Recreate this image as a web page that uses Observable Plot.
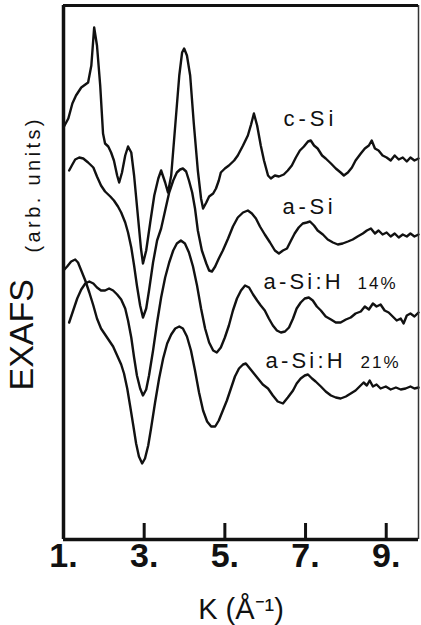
<!DOCTYPE html>
<html>
<head>
<meta charset="utf-8">
<script src="https://cdn.jsdelivr.net/npm/d3@7"></script>
<script src="https://cdn.jsdelivr.net/npm/@observablehq/plot@0.6"></script>
<style>
  html, body { margin: 0; padding: 0; background: #fff; }
  #chart { width: 421px; height: 625px; overflow: hidden; }
</style>
</head>
<body>
<div id="chart"></div>
<script>
// Series names and labels
const seriesNames = ["c-Si", "a-Si", "a-Si:H 14%", "a-Si:H 21%"];

// k values (Å^-1) and EXAFS (arb. units, vertically offset) per series
const cSiK = [1.0,1.12,1.22,1.31,1.44,1.61,1.69,1.76,1.83,1.91,1.98,2.03,2.11,2.18,2.25,2.33,2.38,2.45,2.53,2.60,2.68,2.75,2.85,2.92,2.97,3.05,3.15,3.25,3.35,3.42,3.52,3.59,3.67,3.77,3.87,3.94,3.99,4.06,4.14,4.23,4.33,4.41,4.46,4.54,4.61,4.71,4.78,4.85,4.90,5.00,5.10,5.23,5.32,5.45,5.57,5.65,5.72,5.80,5.89,5.97,6.07,6.14,6.24,6.34,6.46,6.56,6.66,6.76,6.86,6.96,7.06,7.13,7.21,7.30,7.41,7.50,7.63,7.75,7.87,7.95,8.05,8.15,8.24,8.37,8.47,8.57,8.64,8.72,8.81,8.91,9.01,9.11,9.21,9.31,9.41,9.51,9.60,9.70,9.80];
const cSiY = [41.2,42.1,43.6,44.4,45.2,45.7,47.4,51.2,49.4,45.4,40.6,39.6,39.3,38.7,37.9,36.4,35.7,36.7,38.4,39.3,38.7,36.4,32.1,29.1,27.6,28.9,31.7,34.4,36.1,36.9,35.7,34.7,36.4,41.4,46.4,48.7,49.1,48.4,46.4,41.6,36.9,34.1,33.1,33.7,34.3,34.6,35.1,35.9,36.7,37.1,37.4,37.9,38.4,39.4,40.4,41.5,42.6,41.4,39.4,37.9,36.4,36.1,36.4,36.3,36.5,36.9,37.4,38.2,38.9,39.3,39.8,39.9,39.4,39.1,38.4,38.1,37.6,37.1,36.7,36.4,36.7,37.2,37.9,38.6,39.1,39.4,39.9,39.1,38.9,38.4,38.2,37.9,38.4,38.0,38.2,37.8,38.2,37.9,38.1];

const aSiK = [1.14,1.22,1.29,1.39,1.49,1.61,1.74,1.83,1.93,2.03,2.16,2.25,2.35,2.43,2.53,2.60,2.68,2.75,2.82,2.90,2.97,3.05,3.12,3.22,3.32,3.42,3.52,3.62,3.72,3.81,3.89,3.96,4.04,4.11,4.19,4.26,4.33,4.43,4.54,4.61,4.68,4.76,4.85,4.95,5.08,5.20,5.32,5.45,5.57,5.67,5.77,5.87,5.99,6.12,6.24,6.34,6.44,6.54,6.64,6.73,6.83,6.93,7.03,7.11,7.21,7.30,7.43,7.55,7.68,7.80,7.92,8.05,8.17,8.29,8.42,8.52,8.62,8.72,8.81,8.91,9.01,9.11,9.21,9.31,9.41,9.51,9.60,9.70,9.80];
const aSiY = [36.9,37.5,38.0,38.2,38.1,37.7,37.2,36.3,35.4,34.8,34.3,33.9,33.3,32.7,31.7,30.7,29.2,27.4,25.4,23.4,22.2,23.1,24.9,27.7,29.9,31.1,32.9,34.7,35.9,36.7,37.0,37.1,36.8,35.9,34.7,33.1,30.9,28.9,27.6,26.9,26.8,27.3,28.1,28.9,30.1,31.3,32.2,32.7,32.9,32.6,32.1,31.3,30.5,29.7,28.9,28.6,28.9,29.1,29.9,30.6,31.2,31.6,31.7,31.8,31.4,30.9,30.5,30.0,29.7,29.5,29.6,29.8,30.0,30.3,30.6,30.9,31.1,30.6,30.9,30.5,30.7,30.3,30.6,30.2,30.5,30.3,30.6,30.3,30.5];

const aSiH14K = [1.14,1.24,1.34,1.44,1.54,1.64,1.74,1.83,1.93,2.03,2.13,2.23,2.33,2.43,2.53,2.60,2.68,2.75,2.82,2.90,2.97,3.05,3.12,3.22,3.32,3.42,3.52,3.62,3.72,3.81,3.91,4.01,4.11,4.21,4.31,4.41,4.51,4.61,4.71,4.80,4.90,5.00,5.10,5.20,5.30,5.40,5.50,5.60,5.70,5.80,5.89,5.99,6.09,6.19,6.29,6.39,6.49,6.59,6.69,6.78,6.88,6.98,7.08,7.18,7.28,7.38,7.50,7.63,7.75,7.87,8.00,8.12,8.24,8.37,8.47,8.57,8.67,8.76,8.86,8.96,9.06,9.16,9.26,9.36,9.43,9.51,9.60,9.70,9.80];
const aSiH14Y = [21.7,22.9,24.1,25.0,25.6,25.8,25.6,25.2,24.9,24.9,25.1,24.9,24.5,24.0,23.1,21.9,20.2,18.2,16.4,15.1,14.4,15.0,16.4,18.9,21.7,24.2,26.2,27.7,28.9,29.6,29.9,29.6,28.7,27.3,25.4,23.1,21.1,19.7,18.9,18.7,19.2,20.2,21.4,22.9,24.1,24.9,25.4,25.2,24.5,23.9,23.4,22.9,22.1,21.4,20.9,20.7,20.8,21.2,22.1,23.1,23.7,24.1,24.2,23.9,23.3,22.9,22.3,22.0,21.7,21.7,22.0,22.2,22.6,22.8,23.3,23.0,23.6,23.3,23.5,22.9,22.7,22.3,21.9,22.1,21.6,22.4,22.6,22.3,22.7];

const aSiH21K = [1.0,1.09,1.19,1.29,1.36,1.44,1.54,1.64,1.74,1.83,1.93,2.03,2.13,2.23,2.33,2.43,2.50,2.58,2.65,2.73,2.80,2.87,2.95,3.02,3.10,3.17,3.27,3.37,3.47,3.57,3.67,3.77,3.87,3.96,4.06,4.16,4.26,4.36,4.46,4.56,4.66,4.76,4.85,4.95,5.05,5.15,5.25,5.35,5.45,5.52,5.62,5.72,5.82,5.94,6.07,6.19,6.31,6.44,6.56,6.69,6.78,6.88,6.98,7.06,7.16,7.25,7.38,7.50,7.63,7.75,7.87,8.00,8.12,8.24,8.34,8.44,8.52,8.59,8.67,8.76,8.86,8.99,9.11,9.24,9.36,9.48,9.60,9.70,9.80];
const aSiH21Y = [26.9,27.3,27.8,28.0,27.7,26.9,25.9,24.7,23.4,22.1,21.1,20.5,19.9,19.3,18.4,17.5,16.6,15.1,13.4,11.4,9.6,8.3,7.6,8.1,9.4,11.1,13.7,16.1,18.1,19.6,20.5,21.1,21.3,21.1,20.3,18.9,16.9,14.7,12.9,11.8,11.3,11.3,11.9,12.9,13.9,15.1,16.3,17.1,17.5,17.6,17.1,16.6,16.1,15.5,15.1,14.4,13.8,13.6,14.2,14.9,15.6,16.1,16.4,16.5,16.1,15.8,15.3,14.8,14.4,14.2,14.1,14.3,14.6,14.9,15.3,15.7,15.4,15.9,15.3,15.5,15.1,15.3,15.0,15.2,15.0,15.1,15.3,15.1,15.2];

// Axis ticks
const tickValues = [1, 3, 5, 7, 9];
const tickLabels = ["1.", "3.", "5.", "7.", "9."];

const kDomain = [1, 9.8];
const yDomain = [0, 53.4];

const seriesK = [cSiK, aSiK, aSiH14K, aSiH21K];
const seriesY = [cSiY, aSiY, aSiH14Y, aSiH21Y];
const rows = [];
seriesNames.forEach((name, i) => {
  seriesK[i].forEach((k, j) => rows.push({series: name, k, v: seriesY[i][j]}));
});

const font = "'Liberation Sans', Arial, Helvetica, sans-serif";

const chart = Plot.plot({
  width: 421,
  height: 625,
  marginLeft: 63,
  marginRight: 3,
  marginTop: 5,
  marginBottom: 86,
  style: {background: "white", fontFamily: font, color: "black"},
  x: {domain: kDomain, axis: null},
  y: {domain: yDomain, axis: null},
  marks: [
    Plot.line(rows, {x: "k", y: "v", z: "series", stroke: "#111", strokeWidth: 2.4, strokeLinejoin: "round"}),
    // frame
    Plot.ruleX([kDomain[0]], {stroke: "#111", strokeWidth: 3.5}),
    Plot.ruleX([kDomain[1]], {stroke: "#333", strokeWidth: 1.5}),
    Plot.ruleY([yDomain[0]], {stroke: "#111", strokeWidth: 3.5}),
    Plot.ruleY([yDomain[1]], {stroke: "#111", strokeWidth: 3}),
    // inward ticks
    Plot.ruleX(tickValues.filter(t => t > kDomain[0]), {y1: yDomain[0], y2: yDomain[0] + 1.6, stroke: "#111", strokeWidth: 3}),
    // tick labels
    Plot.text(tickValues, {x: d => d, text: (d, i) => tickLabels[i], frameAnchor: "bottom", dy: 27, fontSize: 34, fontWeight: "bold", fill: "#111"}),
    // x label
    Plot.text(["K (Å⁻¹)"], {frameAnchor: "bottom", dy: 79, fontSize: 29, fill: "#111"}),
    // y label
    Plot.text(["EXAFS"], {frameAnchor: "left", rotate: -90, dx: -41, dy: 118, fontSize: 34, fill: "#111"}),
    Plot.text(["(arb. units)"], {frameAnchor: "left", rotate: -90, dx: -30, dy: -20, fontSize: 20, fill: "#111"}),
    // series labels
    Plot.text([seriesNames[0]], {frameAnchor: "top-left", textAnchor: "start", lineAnchor: "bottom", dx: 220, dy: 120, fontSize: 22, fill: "#111"}),
    Plot.text([seriesNames[1]], {frameAnchor: "top-left", textAnchor: "start", lineAnchor: "bottom", dx: 219, dy: 208, fontSize: 22, fill: "#111"}),
    Plot.text(["a-Si:H"], {frameAnchor: "top-left", textAnchor: "start", lineAnchor: "bottom", dx: 200, dy: 283, fontSize: 22, fill: "#111"}),
    Plot.text(["14%"], {frameAnchor: "top-left", textAnchor: "start", lineAnchor: "bottom", dx: 294, dy: 283, fontSize: 17, fill: "#111"}),
    Plot.text(["a-Si:H"], {frameAnchor: "top-left", textAnchor: "start", lineAnchor: "bottom", dx: 202, dy: 362, fontSize: 22, fill: "#111"}),
    Plot.text(["21%"], {frameAnchor: "top-left", textAnchor: "start", lineAnchor: "bottom", dx: 297, dy: 362, fontSize: 17, fill: "#111"})
  ]
});

// letter spacing for the wide-set labels
d3.select(chart).selectAll("text").each(function() {
  const t = this.textContent;
  const sp = {"(arb. units)": 3.4, "c-Si": 4, "a-Si": 3.7, "a-Si:H": 3.2, "14%": 2, "21%": 2}[t];
  if (sp) this.setAttribute("letter-spacing", sp);
});

document.getElementById("chart").appendChild(chart);
</script>
</body>
</html>
